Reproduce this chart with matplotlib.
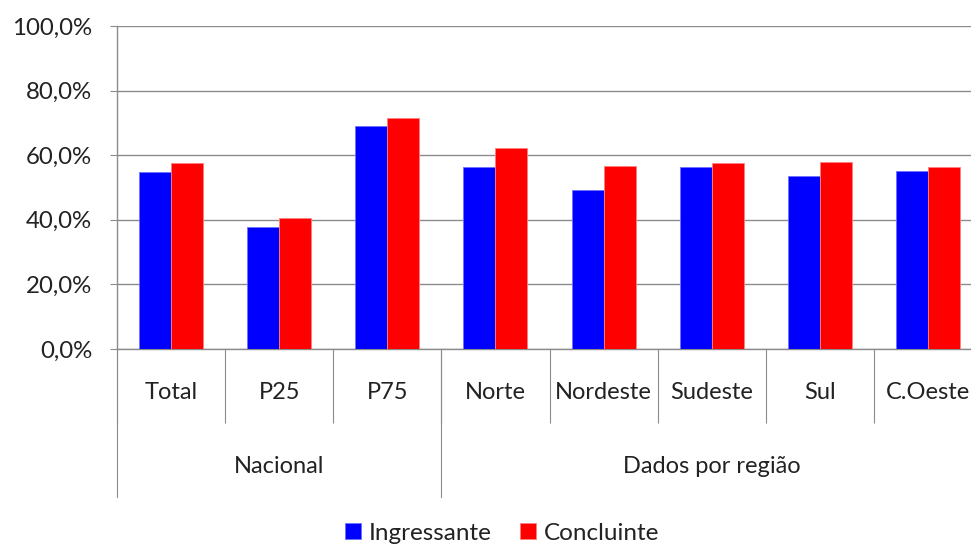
import matplotlib
matplotlib.use("Agg")
import matplotlib.pyplot as plt
import matplotlib.transforms as mtransforms
import numpy as np

# Data
categories = ["Total", "P25", "P75", "Norte", "Nordeste", "Sudeste", "Sul", "C.Oeste"]
groups = ["Nacional", "Dados por região"]
group_spans = [(0, 2), (3, 7)]
ingressante = [54.7, 37.8, 69.1, 56.3, 49.1, 56.3, 53.5, 55.1]
concluinte = [57.5, 40.6, 71.4, 62.2, 56.6, 57.5, 57.9, 56.3]

plt.rcParams['font.family'] = ['Lato', 'DejaVu Sans']
grey = '#8c8c8c'

fig = plt.figure(figsize=(9.71, 5.44), dpi=100)
# plot area runs past the right edge of the picture, as in the original
ax = fig.add_axes([117 / 971, 195 / 544, 865 / 971, 323 / 544])

x = np.arange(len(categories))
w = 0.296
ax.bar(x - w / 2, np.array(ingressante) / 100, w, color='#0000ff',
       edgecolor='#7070ff', linewidth=0.6, label='Ingressante', zorder=3)
ax.bar(x + w / 2, np.array(concluinte) / 100, w, color='#ff0000',
       edgecolor='#ff8080', linewidth=0.6, label='Concluinte', zorder=3)

ax.set_xlim(-0.5, len(categories) - 0.5)
ax.set_ylim(0, 1)
ax.set_yticks(np.arange(0, 1.01, 0.2))
ax.set_yticklabels([f"{v * 100:.1f}%".replace('.', ',') for v in np.arange(0, 1.01, 0.2)],
                   fontsize=17.3, color='#222222')
ax.yaxis.grid(True, color=grey, linewidth=1.0, zorder=0)
ax.tick_params(axis='y', length=5, width=0.8, color=grey, pad=13)

# category boundaries as long minor ticks
ax.set_xticks(x)
ax.set_xticklabels([])
ax.tick_params(axis='x', which='major', length=0)
ax.set_xticks(np.arange(-0.5, len(categories)), minor=True)
ax.tick_params(axis='x', which='minor', length=53, width=0.8, color=grey)

for s in ['top', 'right']:
    ax.spines[s].set_visible(False)
for s in ['left', 'bottom']:
    ax.spines[s].set_color(grey)
    ax.spines[s].set_linewidth(1.0)

trans = mtransforms.blended_transform_factory(ax.transData, ax.transAxes)
for xi, name in zip(x, categories):
    ax.text(xi, -0.136, name, transform=trans, ha='center', va='center',
            fontsize=17, color='#222222')

for (a, b), g in zip(group_spans, groups):
    ax.plot([a - 0.5, a - 0.5], [0, -148 / 323], transform=trans, color=grey,
            linewidth=0.8, clip_on=False)
    ax.text((a + b) / 2, -0.364, g, transform=trans, ha='center', va='center',
            fontsize=17, color='#222222')

fig.legend(loc='center', bbox_to_anchor=(502 / 971, 1 - 533 / 544), ncol=2,
           frameon=False, fontsize=17.5, handlelength=0.65, handleheight=0.65,
           handletextpad=0.3, columnspacing=1.2, labelcolor='#222222')

fig.savefig('out.png', dpi=100)
